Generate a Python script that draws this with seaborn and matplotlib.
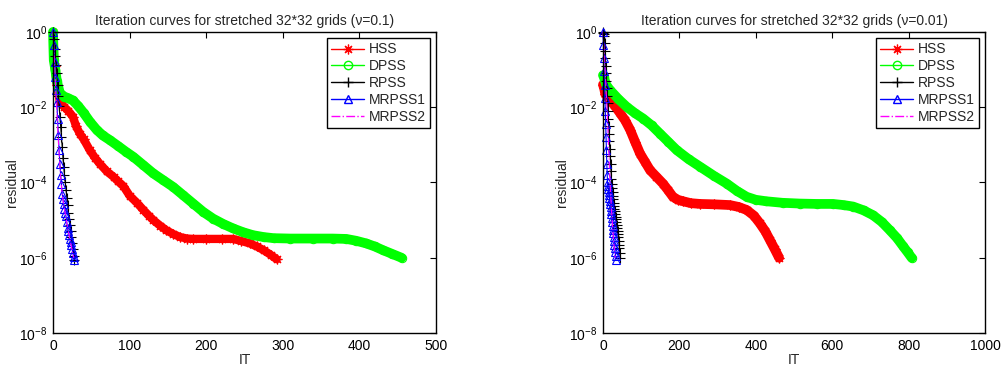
import numpy as np
import pandas as pd
import seaborn as sns
import matplotlib.pyplot as plt
from matplotlib.lines import Line2D

# ---- data (residuals stored as log10 exponents) ----
# left panel, nu = 0.1
hss_l_it = [0, 2, 5, 9, 15, 20, 26, 30, 35, 40, 48, 55, 61, 70, 79, 85, 92, 100, 110, 118,
            125, 131, 140, 148, 157, 166, 175, 183, 200, 220, 235, 245, 257, 266, 275, 284, 292]
hss_l_log = [0, -0.9, -1.4, -1.86, -2.0, -2.1, -2.25, -2.5, -2.7, -2.85, -3.14, -3.35, -3.5, -3.7,
             -3.85, -3.97, -4.1, -4.35, -4.55, -4.73, -4.88, -5.0, -5.15, -5.27, -5.37, -5.45,
             -5.49, -5.5, -5.5, -5.5, -5.5, -5.55, -5.62, -5.7, -5.8, -5.92, -6.04]
dpss_l_it = [0, 1, 3, 5, 9, 15, 20, 26, 33, 40, 48, 57, 65, 74, 85, 95, 105, 118, 131, 144, 157,
             170, 183, 196, 209, 222, 235, 248, 261, 275, 288, 310, 340, 365, 383, 396, 409, 420,
             431, 443, 455]
dpss_l_log = [0, -0.75, -1.0, -1.3, -1.63, -1.72, -1.76, -1.82, -1.97, -2.15, -2.38, -2.6, -2.75,
              -2.87, -3.03, -3.18, -3.32, -3.54, -3.76, -3.94, -4.12, -4.34, -4.56, -4.78, -4.96,
              -5.1, -5.22, -5.32, -5.4, -5.45, -5.48, -5.49, -5.49, -5.49, -5.5, -5.55, -5.62,
              -5.7, -5.8, -5.9, -6.0]
rpss_l_log = [0, -0.2, -0.45, -0.65, -0.88, -1.1, -1.4, -1.7, -1.98, -2.25, -2.52, -2.78, -3.05,
              -3.35, -3.6, -3.8, -4.0, -4.2, -4.4, -4.6, -4.8, -4.97, -5.13, -5.3, -5.45, -5.6,
              -5.78, -5.95, -6.06]
mrpss1_l_log = [0, -0.35, -0.8, -1.2, -1.55, -1.85, -2.3, -2.75, -3.15, -3.5, -3.8, -4.05, -4.3,
                -4.45, -4.58, -4.7, -4.8, -4.9, -5.05, -5.2, -5.3, -5.4, -5.5, -5.57, -5.67,
                -5.77, -5.87, -5.97, -6.05]
mrpss2_l_log = [0, -0.4, -0.85, -1.3, -1.7, -2.1, -2.5, -2.9, -3.25, -3.55, -3.85, -4.1, -4.3,
                -4.45, -4.6, -4.72, -4.83, -4.95, -5.07, -5.2, -5.3, -5.4, -5.5, -5.6, -5.7,
                -5.8, -5.9, -6.0]

# right panel, nu = 0.01
hss_r_it = [0, 3, 6, 18, 30, 45, 58, 71, 84, 97, 110, 123, 140, 157, 170, 183, 196, 210, 230,
            254, 290, 332, 355, 376, 395, 411, 425, 437, 450, 461]
hss_r_log = [-1.4, -1.5, -1.65, -1.8, -1.95, -2.16, -2.35, -2.6, -2.92, -3.23, -3.45, -3.67,
             -3.85, -4.03, -4.2, -4.38, -4.46, -4.5, -4.55, -4.57, -4.58, -4.6, -4.65, -4.73,
             -4.88, -5.09, -5.3, -5.53, -5.78, -6.0]
dpss_r_it = [0, 2, 8, 18, 40, 62, 84, 105, 127, 149, 171, 193, 224, 254, 290, 324, 350, 376, 400,
             428, 470, 515, 560, 602, 630, 655, 682, 707, 730, 751, 770, 786, 798, 808]
dpss_r_log = [-1.15, -1.19, -1.4, -1.54, -1.78, -1.99, -2.16, -2.3, -2.48, -2.7, -2.92, -3.14,
              -3.38, -3.58, -3.82, -4.03, -4.22, -4.38, -4.46, -4.5, -4.54, -4.56, -4.57, -4.57,
              -4.6, -4.64, -4.74, -4.87, -5.05, -5.27, -5.48, -5.7, -5.86, -6.0]
rpss_r_log = [0, -0.02, -0.05, -0.1, -0.3, -0.5, -0.7, -0.9, -1.1, -1.3, -1.5, -1.7, -1.9, -2.1,
              -2.3, -2.5, -2.7, -2.9, -3.1, -3.3, -3.5, -3.7, -3.9, -4.05, -4.15, -4.25, -4.35,
              -4.45, -4.55, -4.63, -4.7, -4.77, -4.84, -4.91, -4.98, -5.05, -5.12, -5.2, -5.28,
              -5.36, -5.45, -5.55, -5.65, -5.75, -5.87, -6.0]
mrpss1_r_log = [0, -0.35, -0.7, -1.05, -1.4, -1.75, -2.1, -2.45, -2.8, -3.15, -3.5, -3.8, -4.0,
                -4.1, -4.18, -4.26, -4.34, -4.42, -4.5, -4.58, -4.66, -4.75, -4.85, -4.95, -5.05,
                -5.15, -5.25, -5.35, -5.45, -5.55, -5.65, -5.75, -5.85, -5.95, -6.05]
mrpss2_r_it = [0, 2, 4, 6, 8, 10, 12, 14, 16, 18, 20, 22, 24, 26, 28, 30, 32]
mrpss2_r_log = [0, -0.3, -0.7, -1.1, -1.5, -1.9, -2.4, -2.9, -3.4, -3.9, -4.3, -4.7, -5.0, -5.3,
                -5.6, -5.8, -6.0]

labels = ["HSS", "DPSS", "RPSS", "MRPSS1", "MRPSS2"]
titles = ["Iteration curves for stretched 32*32 grids (\u03bd=0.1)",
          "Iteration curves for stretched 32*32 grids (\u03bd=0.01)"]

sns.set_style("white")
plt.rcParams["font.family"] = ["Liberation Sans", "DejaVu Sans"]
plt.rcParams["mathtext.default"] = "regular"

RED, GREEN, BLUE, MAG = "#ff0000", "#00ff00", "#0000ff", "#ff00ff"
STAR = (8, 2, 0)  # asterisk like the matlab '*'


def series(it, logs):
    return pd.DataFrame({"it": it, "res": np.power(10.0, logs)})


def draw_panel(ax, hss, dpss, rpss, mr1, mr2, band, xmax, xstep, title):
    common = dict(ax=ax, legend=False, clip_on=False, estimator=None, sort=False)
    # thick band underneath the dense marker curves
    sns.lineplot(data=hss, x="it", y="res", color=RED, linewidth=band[0], **common)
    sns.lineplot(data=hss, x="it", y="res", color=RED, linewidth=1, marker=STAR,
                 markersize=7, markeredgecolor=RED, markeredgewidth=0.9, **common)
    sns.lineplot(data=dpss, x="it", y="res", color=GREEN, linewidth=band[1], **common)
    sns.lineplot(data=dpss, x="it", y="res", color=GREEN, linewidth=1, marker="o",
                 markersize=6, markeredgecolor=GREEN, markerfacecolor="none",
                 markeredgewidth=0.8, **common)
    sns.lineplot(data=rpss, x="it", y="res", color="black", linewidth=0.8, marker="+",
                 markersize=7.5, markeredgecolor="black", markeredgewidth=0.8, **common)
    sns.lineplot(data=mr1, x="it", y="res", color=BLUE, linewidth=0.8, marker="^",
                 markersize=6, markeredgecolor=BLUE, markerfacecolor="none",
                 markeredgewidth=0.8, **common)
    sns.lineplot(data=mr2, x="it", y="res", color=MAG, linewidth=0.8, linestyle="-.",
                 **common)

    ax.set_yscale("log")
    ax.set_ylim(1e-8, 1e0)
    ax.set_yticks([1e-8, 1e-6, 1e-4, 1e-2, 1e0])
    ax.minorticks_off()
    ax.set_xlim(0, xmax)
    ax.set_xticks(np.arange(0, xmax + 1, xstep))
    ax.tick_params(direction="in", length=4, width=0.8, top=True, right=True,
                   labelsize=10, colors="black", pad=4)
    for s in ax.spines.values():
        s.set_color("black")
        s.set_linewidth(1.0)
    ax.set_title(title, fontsize=10, pad=5)
    ax.set_xlabel("IT", fontsize=10, labelpad=0)
    ax.set_ylabel("residual", fontsize=10, labelpad=0)

    handles = [
        Line2D([], [], color=RED, marker=STAR, markersize=7, markeredgewidth=0.9, lw=1),
        Line2D([], [], color=GREEN, marker="o", markersize=6, markerfacecolor="none", lw=1),
        Line2D([], [], color="black", marker="+", markersize=7, lw=1),
        Line2D([], [], color=BLUE, marker="^", markersize=6, markerfacecolor="none", lw=1),
        Line2D([], [], color=MAG, linestyle="-.", lw=1),
    ]
    leg = ax.legend(handles, labels, loc="upper right", fontsize=10, frameon=True,
                    fancybox=False, framealpha=1, edgecolor="black", handlelength=2.4,
                    labelspacing=0.2, borderaxespad=0.45, handletextpad=0.3,
                    borderpad=0.3)
    leg.get_frame().set_linewidth(1.0)


fig = plt.figure(figsize=(10.02, 3.65), dpi=100)
ax1 = fig.add_axes([0.0529, 0.0877, 0.3822, 0.8247])
ax2 = fig.add_axes([0.6018, 0.0877, 0.3812, 0.8247])

draw_panel(ax1, series(hss_l_it, hss_l_log), series(dpss_l_it, dpss_l_log),
           series(range(len(rpss_l_log)), rpss_l_log),
           series(range(len(mrpss1_l_log)), mrpss1_l_log),
           series(range(len(mrpss2_l_log)), mrpss2_l_log),
           band=(6, 7), xmax=500, xstep=100, title=titles[0])
draw_panel(ax2, series(hss_r_it, hss_r_log), series(dpss_r_it, dpss_r_log),
           series(range(len(rpss_r_log)), rpss_r_log),
           series(range(len(mrpss1_r_log)), mrpss1_r_log),
           series(mrpss2_r_it, mrpss2_r_log),
           band=(7, 7), xmax=1000, xstep=200, title=titles[1])

fig.savefig("out.png", dpi=100, facecolor="white")
